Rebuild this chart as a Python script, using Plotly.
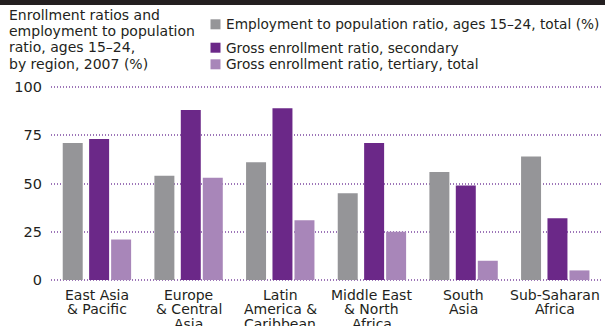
import plotly.graph_objects as go

# ---------------- data ----------------
regions = ["East Asia & Pacific", "Europe & Central Asia", "Latin America & Caribbean",
           "Middle East & North Africa", "South Asia", "Sub-Saharan Africa"]
region_label_lines = [
    ["East Asia", "& Pacific"],
    ["Europe", "& Central", "Asia"],
    ["Latin", "America &", "Caribbean"],
    ["Middle East", "& North", "Africa"],
    ["South", "Asia"],
    ["Sub-Saharan", "Africa"],
]
employment = [71, 54, 61, 45, 56, 64]
secondary = [73, 88, 89, 71, 49, 32]
tertiary = [21, 53, 31, 25, 10, 5]
series_names = ["Employment to population ratio, ages 15\u201324, total (%)",
                "Gross enrollment ratio, secondary",
                "Gross enrollment ratio, tertiary, total"]
title_lines = ["Enrollment ratios and", "employment to population",
               "ratio, ages 15\u201324,", "by region, 2007 (%)"]
y_ticks = [0, 25, 50, 75, 100]

# ---------------- style ----------------
W, H = 605, 326
L, R, T, B = 51, 4, 85, 44
PW, PH = W - L - R, H - T - B
colors = ["#959598", "#6b2888", "#a886b9"]
FONT = "DejaVu Sans"
TXT = "#231f20"
bar_w = 0.218
offsets = [-0.372, -0.084, 0.156]
FS = 14
FS_LEG = 13.7


def px(xp):
    return (xp - L) / PW


def py(yp):
    return (H - B - yp) / PH


fig = go.Figure()
for vals, name, col, off in zip([employment, secondary, tertiary], series_names, colors, offsets):
    fig.add_trace(go.Bar(x=regions, y=vals, name=name, marker=dict(color=col, line=dict(width=0)),
                         width=bar_w, offset=off, showlegend=False))

annotations = []
# title
for i, line in enumerate(title_lines):
    annotations.append(dict(text=line, xref="paper", yref="paper", x=px(7), y=py(14.6 + 16.4 * i),
                            xanchor="left", yanchor="middle", showarrow=False,
                            font=dict(family=FONT, size=FS, color=TXT)))
# legend
leg_centers = [23.6, 47.6, 63.6]
sq_tops = [19.3, 42.7, 59.3]
shapes = []
for name, col, yc, st in zip(series_names, colors, leg_centers, sq_tops):
    annotations.append(dict(text=name, xref="paper", yref="paper", x=px(224), y=py(yc),
                            xanchor="left", yanchor="middle", showarrow=False,
                            font=dict(family=FONT, size=FS_LEG, color=TXT)))
    shapes.append(dict(type="rect", xref="paper", yref="paper", x0=px(210.5), x1=px(220.5),
                       y0=py(st), y1=py(st + 10), fillcolor=col, line=dict(width=0)))
# top black band
shapes.append(dict(type="rect", xref="paper", yref="paper", x0=px(0), x1=px(W),
                   y0=py(0), y1=py(5), fillcolor="#231f20", line=dict(width=0)))
# x labels
for reg, lines in zip(regions, region_label_lines):
    for j, line in enumerate(lines):
        annotations.append(dict(text=line, xref="x", yref="paper", x=reg, y=py(294.6 + 14.6 * j),
                                xanchor="center", yanchor="middle", showarrow=False,
                                font=dict(family=FONT, size=FS, color=TXT)))

fig.update_layout(
    width=W, height=H,
    margin=dict(l=L, r=R, t=T, b=B, pad=0),
    paper_bgcolor="white", plot_bgcolor="white",
    barmode="overlay",
    showlegend=False,
    annotations=annotations,
    shapes=shapes,
    xaxis=dict(showticklabels=False, showgrid=False, zeroline=False, showline=False,
               ticks="", range=[-0.5, 5.5]),
    yaxis=dict(range=[-1, 101], tickvals=y_ticks, ticktext=[str(v) for v in y_ticks],
               showgrid=True, gridcolor="#9d75b8", griddash="1px,2px", gridwidth=1.5,
               zeroline=False, showline=False, ticks="", ticklabelstandoff=8,
               tickfont=dict(family=FONT, size=14.5, color=TXT)),
)

fig.write_html("out.html")
